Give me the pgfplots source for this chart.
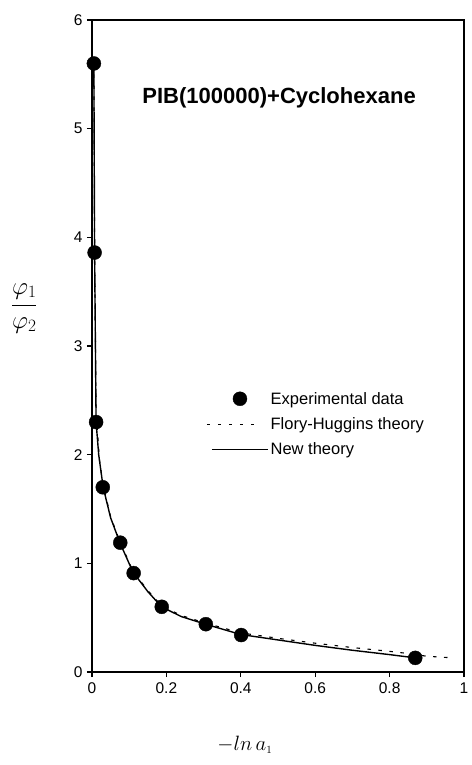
\documentclass[border=0pt]{standalone}
\usepackage{fontspec}
\setmainfont{Liberation Sans}
\usepackage{pgfplots}
\pgfplotsset{compat=1.18}

\begin{document}
\begin{tikzpicture}
\begin{axis}[
  at={(0pt,0pt)}, anchor=south west,
  scale only axis,
  width=372pt, height=652pt,
  xmin=0, xmax=1, ymin=0, ymax=6,
  xtick={0,0.2,0.4,0.6,0.8,1},
  ytick={0,1,2,3,4,5,6},
  tick align=outside,
  tick pos=left,
  major tick length=5pt,
  tick style={black, line width=1.2pt},
  axis line style={line width=1.7pt},
  ticklabel style={font=\fontsize{15.5}{17}\selectfont},
  /pgf/number format/assume math mode=true,
  xticklabel style={yshift=-2pt},
  yticklabel style={xshift=-1pt},
  xlabel={\(-ln\,a_{\scriptscriptstyle 1}\)},
  xlabel style={font=\fontsize{22}{24}\selectfont, at={(axis description cs:0.411,-0.112)}, anchor=center},
  ylabel={\(\displaystyle\frac{\varphi_1}{\varphi_2}\)},
  ylabel style={font=\fontsize{26}{29}\selectfont, rotate=-90, at={(axis description cs:-0.182,0.558)}, anchor=center},
  legend style={
    at={(axis cs:0.307,2.28)}, anchor=west,
    draw=none, fill=none, inner sep=0pt,
    font=\fontsize{16.5}{19}\selectfont,
    row sep=8pt,
    cells={anchor=west},
  },
]
\addplot[only marks, mark=*, mark size=7pt, black,
  legend image code/.code={\fill (33pt,0pt) circle (7pt);}]
coordinates {
(0.005,5.60) (0.007,3.86) (0.011,2.30) (0.029,1.70) (0.076,1.19)
(0.112,0.91) (0.1875,0.60) (0.306,0.44) (0.401,0.34) (0.869,0.13)
};
\addlegendentry{Experimental data}

\addplot[black, line width=1.1pt, dash pattern=on 3.5pt off 7.5pt,
  legend image code/.code={\draw (0pt,0pt) -- (55pt,0pt);}]
coordinates {
(0.005,5.60) (0.007,3.90) (0.011,2.40) (0.020,1.95) (0.030,1.72)
(0.050,1.43) (0.075,1.20) (0.110,0.93) (0.150,0.75) (0.187,0.61)
(0.240,0.52) (0.305,0.45) (0.400,0.36) (0.500,0.31) (0.600,0.265)
(0.700,0.225) (0.800,0.19) (0.850,0.17) (0.900,0.145) (0.970,0.13)
};
\addlegendentry{Flory-Huggins theory}

\addplot[black, line width=1.4pt,
  legend image code/.code={\draw (5pt,0pt) -- (61pt,0pt);}]
coordinates {
(0.005,5.60) (0.007,3.86) (0.011,2.30) (0.018,2.00) (0.030,1.70)
(0.050,1.42) (0.075,1.19) (0.110,0.92) (0.150,0.74) (0.187,0.60)
(0.240,0.51) (0.305,0.44) (0.400,0.345) (0.500,0.295) (0.600,0.245)
(0.700,0.20) (0.800,0.16) (0.869,0.13)
};
\addlegendentry{New theory}

\node[font=\fontsize{22}{25}\selectfont\bfseries, anchor=center]
  at (axis cs:0.503,5.285) {PIB(100000)+Cyclohexane};
\end{axis}
\useasboundingbox (-92pt,-93pt) rectangle (374pt,672pt);
\end{tikzpicture}
\end{document}
